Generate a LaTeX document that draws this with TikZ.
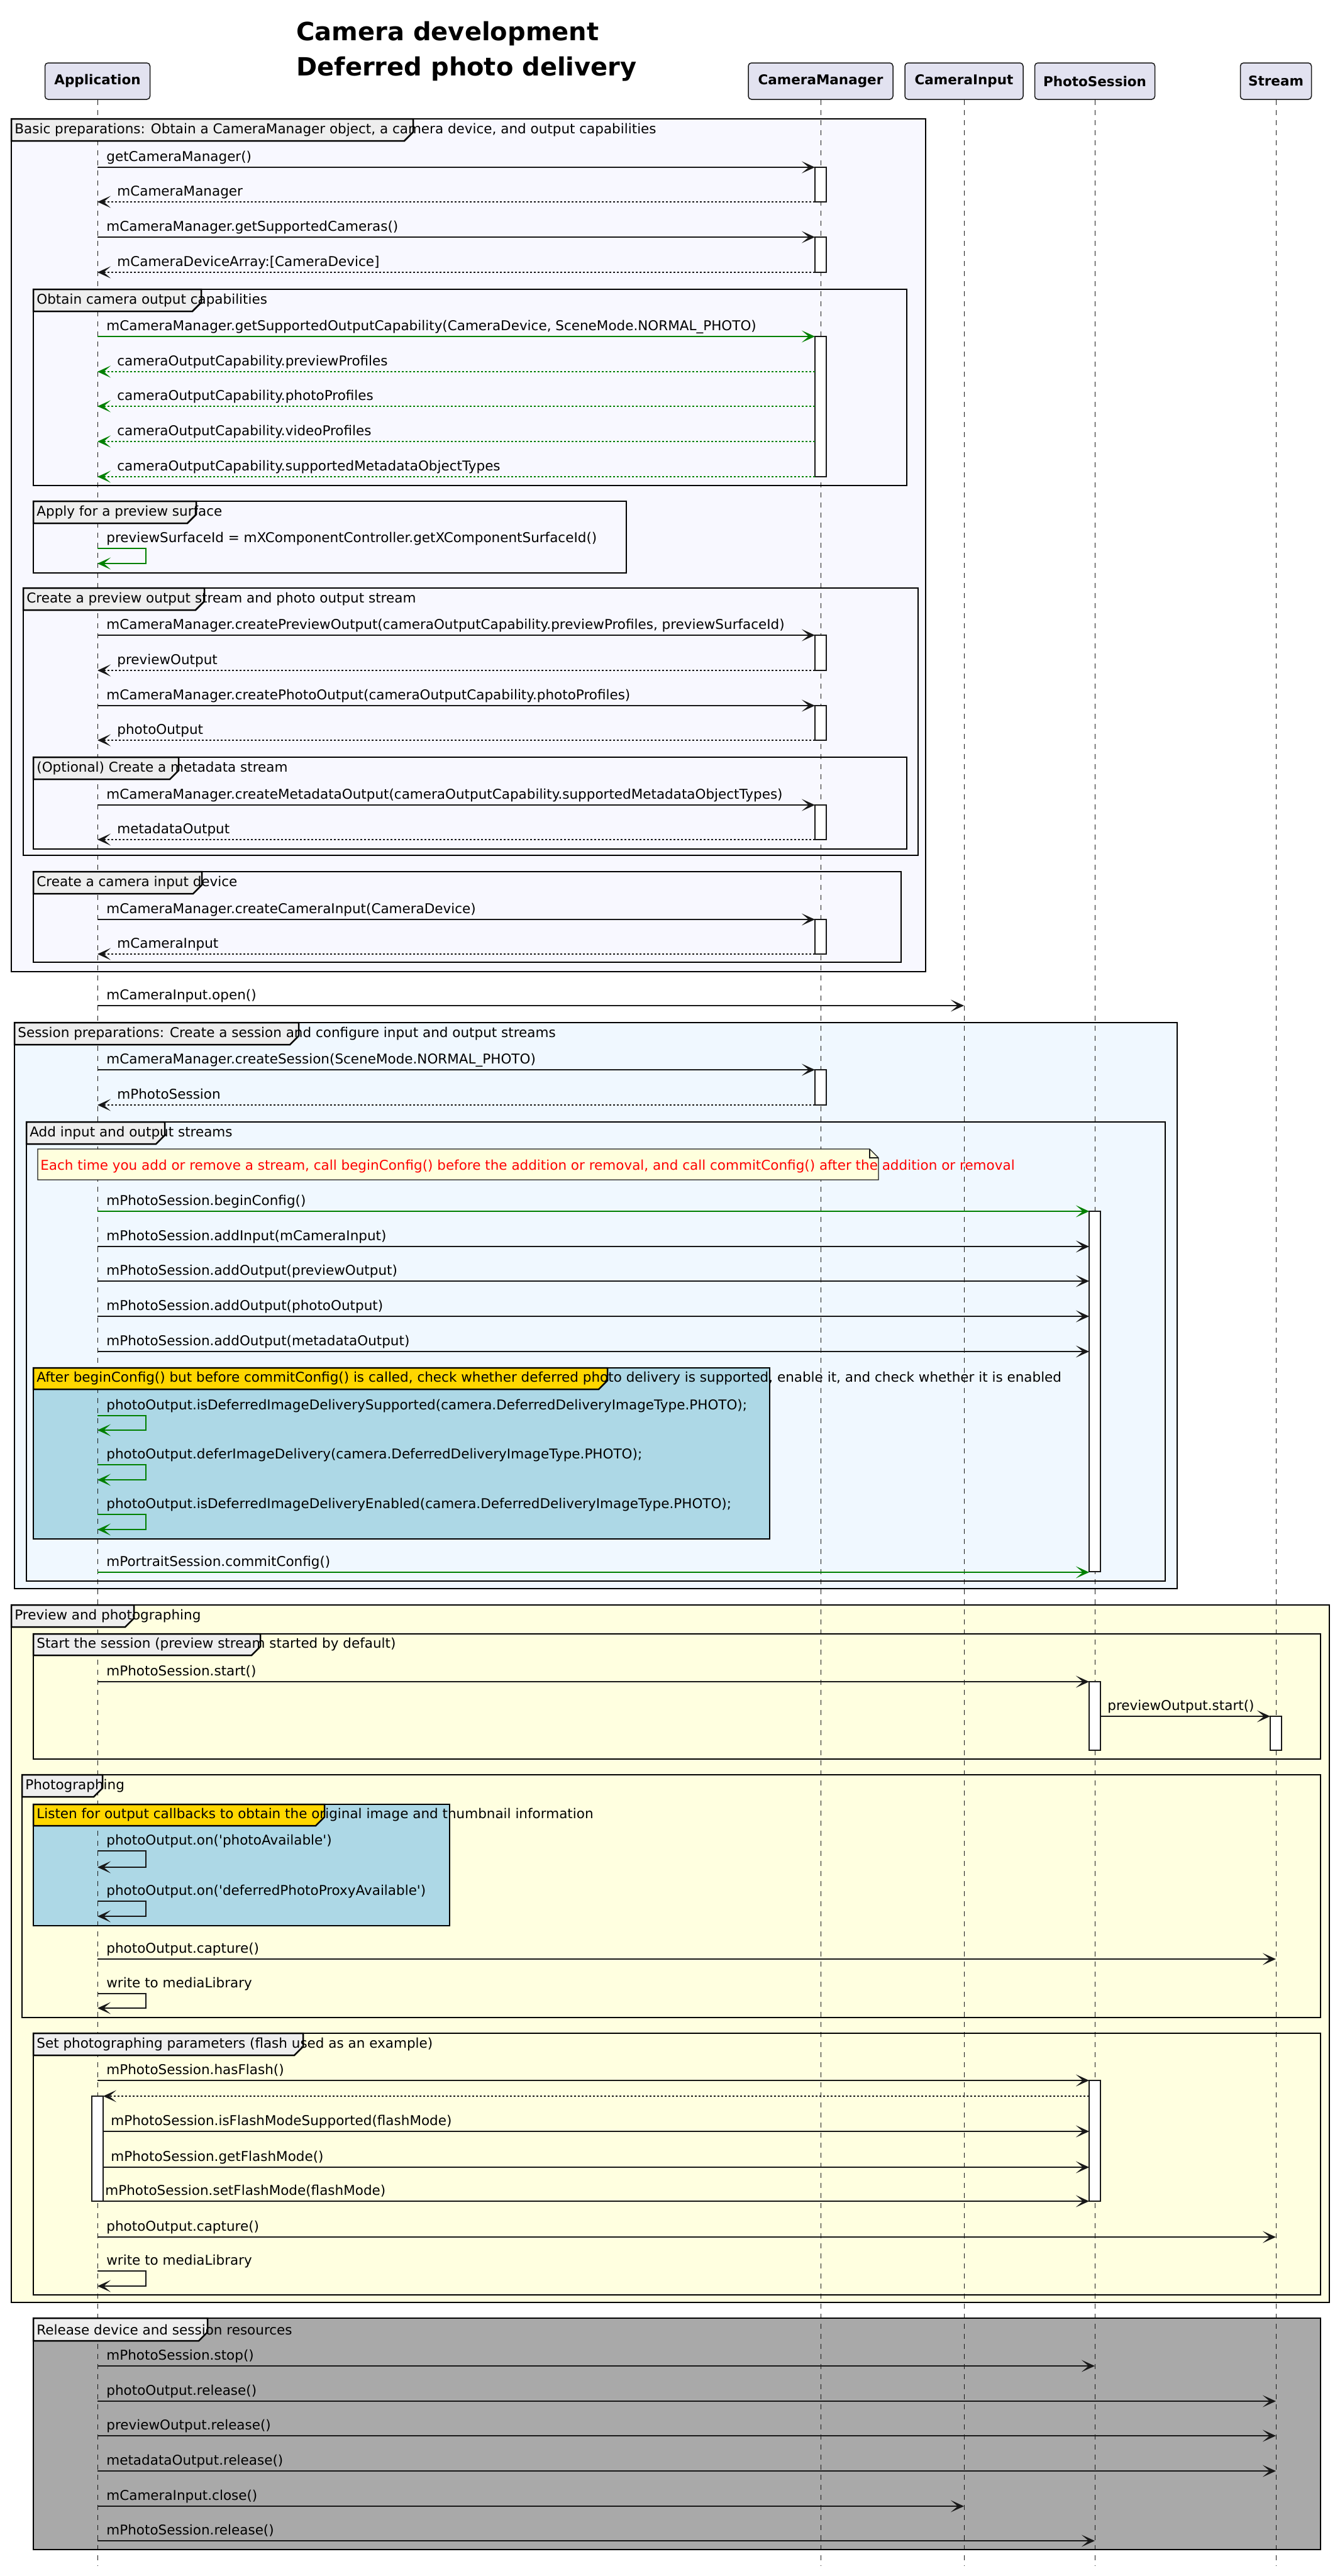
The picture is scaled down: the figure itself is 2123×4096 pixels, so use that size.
\documentclass[tikz,border=0pt]{standalone}
\usepackage{fontspec}
\setmainfont{DejaVu Sans}
\usepackage{tikz}
\usetikzlibrary{arrows.meta}
\definecolor{linec}{HTML}{181818}
\definecolor{partfill}{HTML}{E2E2F0}
\definecolor{tabgray}{HTML}{EEEEEE}
\definecolor{ghost}{HTML}{F8F8FF}
\definecolor{alice}{HTML}{F0F8FF}
\definecolor{lyellow}{HTML}{FFFFE0}
\definecolor{lblue}{HTML}{ADD8E6}
\definecolor{gold}{HTML}{FFD700}
\definecolor{dgray}{HTML}{A9A9A9}
\definecolor{notefill}{HTML}{FEFFDD}
\definecolor{okgreen}{HTML}{008000}
\newcommand{\msgfont}{\fontsize{10.75}{13}\selectfont}
\tikzset{
	participant/.style={draw=linec,fill=partfill,rounded corners=2.5pt,line width=0.75pt,minimum height=29pt,inner sep=0pt,font=\msgfont\bfseries},
	lifeline/.style={draw=linec,line width=0.5pt,dash pattern=on 4pt off 4pt},
	grpframe/.style={draw=black,line width=1.25pt},
	grptab/.style={draw=black,line width=1.25pt},
	grplabel/.style={anchor=west,inner sep=0pt,font=\msgfont},
	lbl/.style={anchor=base west,inner sep=0pt,font=\msgfont},
	msg/.style={draw=linec,line width=1pt,-{Stealth[length=10.5pt,width=9.5pt,inset=5.5pt]}},
	ret/.style={msg,dash pattern=on 1.5pt off 1.5pt},
	gmsg/.style={msg,draw=okgreen},
	gret/.style={ret,draw=okgreen},
	actbox/.style={draw=linec,fill=white,line width=0.6pt},
	notebox/.style={draw=linec,fill=notefill,line width=0.6pt}
}
% lifeline positions
\def\xA{155}\def\xM{1305}\def\xI{1533}\def\xP{1741}\def\xS{2029}
\def\cmL{1296}\def\psL{1732}\def\psR{1750}\def\stL{2020}\def\apR{164}
\newcommand{\seqgroup}[9][tabgray]{%
	\draw[grpframe] (#3,#4) rectangle (#5,#6);
	\filldraw[grptab,fill=#1] (#3,#4) -- (#7,#4) -- (#7,#8-14) -- (#7-14,#8) -- (#3,#8) -- cycle;
	\node[grplabel] (#2) at (#3+5,#4/2+#8/2) {#9};
}
\newcommand{\actbar}[3]{\filldraw[actbox] (#1-9,#2) rectangle (#1+9,#3);}
\newcommand{\seqmsg}[7][msg]{%
	\coordinate (#2s) at (#3,#5);
	\coordinate (#2e) at (#4,#5);
	\draw[#1] (#2s) -- (#2e);
	\node[lbl] (#2t) at (#6,#5-10) {#7};
}
\newcommand{\selfmsg}[5][msg]{%
	\coordinate (#2s) at (\xA,#3);
	\coordinate (#2e) at (\xA,#4);
	\draw[#1] (#2s) -- ++(77,0) |- (#2e);
	\node[lbl] (#2t) at (169,#3-10) {#5};
}

\begin{document}
\begin{tikzpicture}[x=0.5pt,y=-0.5pt]
	\useasboundingbox (0,0) rectangle (2123,4096);
	\fill[white] (0,0) rectangle (2123,4096);
	% group backgrounds
	\fill[ghost] (18,189) rectangle (1472,1545);
	\fill[alice] (23,1626) rectangle (1872,2526);
	\fill[lblue] (53,2175) rectangle (1224,2447);
	\fill[lyellow] (18,2552) rectangle (2114,3661);
	\fill[lblue] (53,2869) rectangle (715,3062);
	\fill[dgray] (53,3686) rectangle (2100,4054);

	\node[anchor=base west,inner sep=0pt,font=\fontsize{20}{24}\selectfont\bfseries] (title1) at (471,64) {Camera development};
	\node[anchor=base west,inner sep=0pt,font=\fontsize{20}{24}\selectfont\bfseries] (title2) at (471,120) {Deferred photo delivery};

	\node[participant,minimum width=83.5pt] (app) at (\xA,129) {Application};
	\node[participant,minimum width=115pt] (cm) at (\xM,129) {CameraManager};
	\node[participant,minimum width=94pt] (ci) at (\xI,129) {CameraInput};
	\node[participant,minimum width=95.5pt] (ps) at (\xP,129) {PhotoSession};
	\node[participant,minimum width=56.5pt] (st) at (\xS,129) {Stream};
	\foreach \p in {app,cm,ci,ps,st}
		\draw[lifeline] (\p.south) -- (\p.south |- 0,4080);

	\seqgroup{gbasic}{18}{189}{1472}{1545}{657}{224}{Basic preparations: Obtain a CameraManager object, a camera device, and output capabilities}
	\seqgroup{gcap}{53}{460}{1442}{772}{320}{495}{Obtain camera output capabilities}
	\seqgroup{gsurf}{53}{797}{996}{911}{312}{832}{Apply for a preview surface}
	\seqgroup{gout}{37}{935}{1460}{1360}{325}{970}{Create a preview output stream and photo output stream}
	\seqgroup{gmeta}{53}{1204}{1442}{1350}{284}{1239}{(Optional) Create a metadata stream}
	\seqgroup{ginput}{53}{1386}{1433}{1530}{321}{1421}{Create a camera input device}
	\seqgroup{gsess}{23}{1626}{1872}{2526}{475}{1661}{Session preparations: Create a session and configure input and output streams}
	\seqgroup{gadd}{42}{1784}{1853}{2514}{262}{1819}{Add input and output streams}
	\seqgroup[gold]{gdefer}{53}{2175}{1224}{2447}{966}{2209}{After beginConfig() but before commitConfig() is called, check whether deferred photo delivery is supported, enable it, and check whether it is enabled}
	\seqgroup{gprev}{18}{2552}{2114}{3661}{213}{2587}{Preview and photographing}
	\seqgroup{gstart}{53}{2598}{2100}{2797}{414}{2632}{Start the session (preview stream started by default)}
	\seqgroup{gphoto}{35}{2822}{2100}{3208}{163}{2857}{Photographing}
	\seqgroup[gold]{glisten}{53}{2869}{715}{3062}{516}{2903}{Listen for output callbacks to obtain the original image and thumbnail information}
	\seqgroup{gflash}{53}{3233}{2100}{3649}{482}{3268}{Set photographing parameters (flash used as an example)}
	\seqgroup{grel}{53}{3686}{2100}{4054}{330}{3722}{Release device and session resources}

	% basic preparations
	\actbar{\xM}{266}{321}
	\seqmsg{m1}{\xA}{\cmL}{266}{169}{getCameraManager()}
	\seqmsg[ret]{m2}{\cmL}{\xA}{321}{186}{mCameraManager}
	\actbar{\xM}{377}{433}
	\seqmsg{m3}{\xA}{\cmL}{377}{169}{mCameraManager.getSupportedCameras()}
	\seqmsg[ret]{m4}{\cmL}{\xA}{433}{186}{mCameraDeviceArray:[CameraDevice]}
	\actbar{\xM}{535}{758}
	\seqmsg[gmsg]{m5}{\xA}{\cmL}{535}{169}{mCameraManager.getSupportedOutputCapability(CameraDevice, SceneMode.NORMAL\_PHOTO)}
	\seqmsg[gret]{m6}{\cmL}{\xA}{591}{186}{cameraOutputCapability.previewProfiles}
	\seqmsg[gret]{m7}{\cmL}{\xA}{646}{186}{cameraOutputCapability.photoProfiles}
	\seqmsg[gret]{m8}{\cmL}{\xA}{702}{186}{cameraOutputCapability.videoProfiles}
	\seqmsg[gret]{m9}{\cmL}{\xA}{758}{186}{cameraOutputCapability.supportedMetadataObjectTypes}
	\selfmsg[gmsg]{s1}{872}{896}{previewSurfaceId = mXComponentController.getXComponentSurfaceId()}
	\actbar{\xM}{1010}{1066}
	\seqmsg{m10}{\xA}{\cmL}{1010}{169}{mCameraManager.createPreviewOutput(cameraOutputCapability.previewProfiles, previewSurfaceId)}
	\seqmsg[ret]{m11}{\cmL}{\xA}{1066}{186}{previewOutput}
	\actbar{\xM}{1122}{1177}
	\seqmsg{m12}{\xA}{\cmL}{1122}{169}{mCameraManager.createPhotoOutput(cameraOutputCapability.photoProfiles)}
	\seqmsg[ret]{m13}{\cmL}{\xA}{1177}{186}{photoOutput}
	\actbar{\xM}{1280}{1335}
	\seqmsg{m14}{\xA}{\cmL}{1280}{169}{mCameraManager.createMetadataOutput(cameraOutputCapability.supportedMetadataObjectTypes)}
	\seqmsg[ret]{m15}{\cmL}{\xA}{1335}{186}{metadataOutput}
	\actbar{\xM}{1462}{1517}
	\seqmsg{m16}{\xA}{\cmL}{1462}{169}{mCameraManager.createCameraInput(CameraDevice)}
	\seqmsg[ret]{m17}{\cmL}{\xA}{1517}{186}{mCameraInput}
	\seqmsg{m18}{\xA}{\xI}{1599}{169}{mCameraInput.open()}

	% session preparations
	\actbar{\xM}{1701}{1757}
	\seqmsg{m19}{\xA}{\cmL}{1701}{169}{mCameraManager.createSession(SceneMode.NORMAL\_PHOTO)}
	\seqmsg[ret]{m20}{\cmL}{\xA}{1757}{186}{mPhotoSession}
	\filldraw[notebox] (60,1827) -- (1383,1827) -- (1397,1841) -- (1397,1876) -- (60,1876) -- cycle;
	\draw[notebox,fill=none] (1383,1827) -- (1383,1841) -- (1397,1841);
	\node[lbl,text=red] (note1) at (64,1860) {Each time you add or remove a stream, call beginConfig() before the addition or removal, and call commitConfig() after the addition or removal};
	\actbar{\xP}{1926}{2499}
	\seqmsg[gmsg]{m21}{\xA}{\psL}{1926}{169}{mPhotoSession.beginConfig()}
	\seqmsg{m22}{\xA}{\psL}{1982}{169}{mPhotoSession.addInput(mCameraInput)}
	\seqmsg{m23}{\xA}{\psL}{2037}{169}{mPhotoSession.addOutput(previewOutput)}
	\seqmsg{m24}{\xA}{\psL}{2093}{169}{mPhotoSession.addOutput(photoOutput)}
	\seqmsg{m25}{\xA}{\psL}{2149}{169}{mPhotoSession.addOutput(metadataOutput)}
	\selfmsg[gmsg]{s2}{2251}{2274}{photoOutput.isDeferredImageDeliverySupported(camera.DeferredDeliveryImageType.PHOTO);}
	\selfmsg[gmsg]{s3}{2329}{2353}{photoOutput.deferImageDelivery(camera.DeferredDeliveryImageType.PHOTO);}
	\selfmsg[gmsg]{s4}{2408}{2432}{photoOutput.isDeferredImageDeliveryEnabled(camera.DeferredDeliveryImageType.PHOTO);}
	\seqmsg[gmsg]{m26}{\xA}{\psL}{2500}{169}{mPortraitSession.commitConfig()}

	% preview and photographing
	\actbar{\xP}{2674}{2783}
	\seqmsg{m27}{\xA}{\psL}{2674}{169}{mPhotoSession.start()}
	\actbar{\xS}{2729}{2783}
	\seqmsg{m28}{\psR}{\stL}{2729}{1761}{previewOutput.start()}
	\selfmsg{s5}{2943}{2969}{photoOutput.on(\textquotesingle photoAvailable\textquotesingle)}
	\selfmsg{s6}{3023}{3047}{photoOutput.on(\textquotesingle deferredPhotoProxyAvailable\textquotesingle)}
	\seqmsg{m29}{\xA}{\xS}{3115}{169}{photoOutput.capture()}
	\selfmsg{s7}{3170}{3193}{write to mediaLibrary}
	\actbar{\xP}{3308}{3500}
	\actbar{\xA}{3333}{3500}
	\seqmsg{m30}{\xA}{\psL}{3308}{169}{mPhotoSession.hasFlash()}
	\coordinate (r31s) at (\psL,3333);
	\coordinate (r31e) at (\apR,3333);
	\draw[ret] (r31s) -- (r31e);
	\seqmsg{m31}{\apR}{\psL}{3389}{176}{mPhotoSession.isFlashModeSupported(flashMode)}
	\seqmsg{m32}{\apR}{\psL}{3446}{176}{mPhotoSession.getFlashMode()}
	\seqmsg{m33}{\apR}{\psL}{3500}{167}{mPhotoSession.setFlashMode(flashMode)}
	\seqmsg{m34}{\xA}{\xS}{3557}{169}{photoOutput.capture()}
	\selfmsg{s8}{3611}{3635}{write to mediaLibrary}

	% release
	\seqmsg{m35}{\xA}{\xP}{3762}{169}{mPhotoSession.stop()}
	\seqmsg{m36}{\xA}{\xS}{3818}{169}{photoOutput.release()}
	\seqmsg{m37}{\xA}{\xS}{3873}{169}{previewOutput.release()}
	\seqmsg{m38}{\xA}{\xS}{3929}{169}{metadataOutput.release()}
	\seqmsg{m39}{\xA}{\xI}{3985}{169}{mCameraInput.close()}
	\seqmsg{m40}{\xA}{\xP}{4040}{169}{mPhotoSession.release()}
\end{tikzpicture}
\end{document}
